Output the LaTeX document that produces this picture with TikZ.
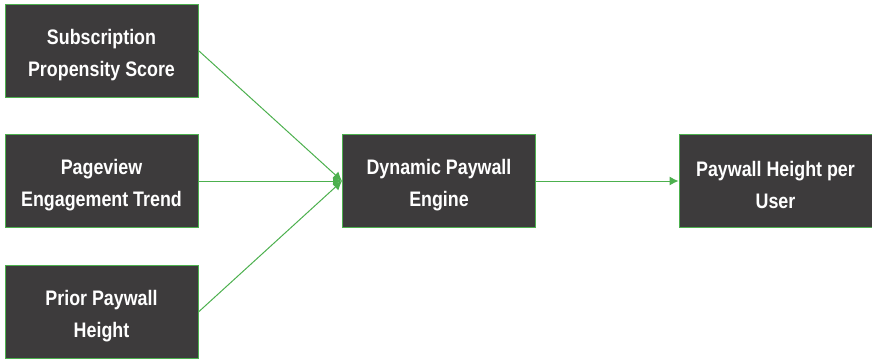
\documentclass[tikz,border=0pt]{standalone}
\usepackage{fontspec}
\setmainfont{Liberation Sans}[FakeStretch=0.85]
\usetikzlibrary{arrows.meta}
\definecolor{boxfill}{HTML}{3D3B3C}
\definecolor{edgegreen}{HTML}{4CB04E}
\newcommand\tpad{\rule{0pt}{24pt}}
\tikzset{
  blk/.style={draw=edgegreen, line width=0.9pt, fill=boxfill, text=white,
    minimum width=193pt, minimum height=93pt, inner sep=0pt, align=center,
    font=\fontsize{21}{32}\selectfont\bfseries},
  conn/.style={draw=edgegreen, line width=1pt, -{Latex[length=9pt,width=9pt]}}
}
\begin{document}
\begin{tikzpicture}[x=1pt,y=1pt]
\useasboundingbox (0,0) rectangle (872,-360);
\node[blk] (sps) at (101.5,-50.5) {\tpad Subscription\\Propensity Score};
\node[blk] (pet) at (101.5,-181) {\tpad Pageview\\Engagement Trend};
\node[blk] (pph) at (101.5,-312) {\tpad Prior Paywall\\Height};
\node[blk] (dpe) at (439,-181) {\tpad Dynamic Paywall\\Engine};
\node[blk] (out) at (775.5,-181) {\tpad Paywall Height per\\User};
\draw[conn] (sps.east) -- (dpe.west);
\draw[conn] (pet.east) -- (dpe.west);
\draw[conn] (pph.east) -- (dpe.west);
\draw[conn] (dpe.east) -- (out.west);
\end{tikzpicture}
\end{document}
